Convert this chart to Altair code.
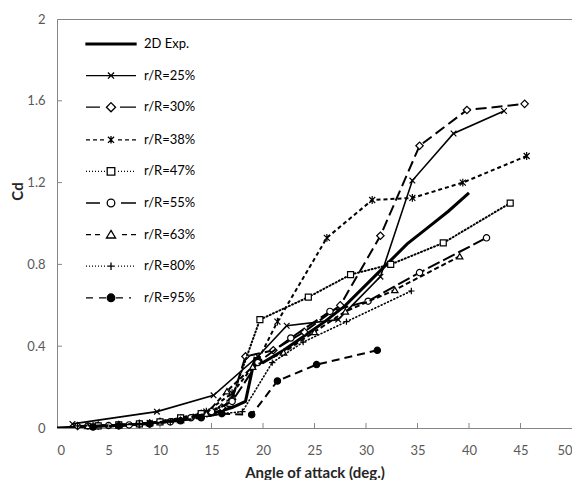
import altair as alt
import pandas as pd

# ---------------- data ----------------
series_names = ["2D Exp.", "r/R=25%", "r/R=30%", "r/R=38%", "r/R=47%",
                "r/R=55%", "r/R=63%", "r/R=80%", "r/R=95%"]

exp2d_x = [0, 4, 8, 12, 15, 17, 18.3, 19.2, 20, 22, 24, 26, 28, 30, 32, 34, 36, 38, 40]
exp2d_y = [0, 0.008, 0.018, 0.04, 0.07, 0.1, 0.13, 0.34, 0.32, 0.38, 0.45, 0.52, 0.6, 0.7, 0.8, 0.9, 0.98, 1.06, 1.15]

r25_x = [1.5, 9.7, 15.2, 19.5, 22.3, 27.3, 31.4, 34.5, 38.5, 43.4]
r25_y = [0.02, 0.08, 0.16, 0.35, 0.50, 0.53, 0.74, 1.21, 1.44, 1.55]

r30_x = [2, 4, 6, 8, 10, 12, 14, 16, 17, 18.3, 21, 24, 27.5, 31.4, 35.2, 39.8, 45.4]
r30_y = [0.01, 0.012, 0.015, 0.02, 0.03, 0.045, 0.07, 0.1, 0.14, 0.35, 0.38, 0.47, 0.6, 0.94, 1.38, 1.555, 1.585]

r38_x = [3.5, 6, 9, 12, 14.5, 17, 19.5, 21.4, 26.2, 30.6, 34.5, 39.4, 45.6]
r38_y = [0.01, 0.015, 0.025, 0.05, 0.08, 0.17, 0.33, 0.52, 0.93, 1.115, 1.125, 1.20, 1.33]

r47_x = [4, 6, 8, 10, 12, 14, 16.8, 19.7, 24.4, 28.5, 32.4, 37.5, 44]
r47_y = [0.01, 0.015, 0.02, 0.03, 0.05, 0.07, 0.12, 0.53, 0.64, 0.75, 0.80, 0.905, 1.10]

r55_x = [3, 5, 7, 9, 11, 13, 15, 17, 19.5, 22.7, 26.5, 30.2, 35.2, 41.7]
r55_y = [0.01, 0.012, 0.015, 0.02, 0.03, 0.05, 0.08, 0.13, 0.32, 0.44, 0.57, 0.62, 0.76, 0.93]

r63_x = [3, 6, 9, 12, 14.5, 16.5, 19, 22, 25, 28, 32.8, 39.1]
r63_y = [0.01, 0.015, 0.025, 0.04, 0.07, 0.18, 0.3, 0.37, 0.47, 0.57, 0.675, 0.84]

r80_x = [2, 5, 8, 11, 14, 16, 18, 20.9, 23.9, 28.1, 34.4]
r80_y = [0.01, 0.012, 0.02, 0.03, 0.05, 0.07, 0.08, 0.32, 0.42, 0.52, 0.67]

r95_x = [3.5, 6, 9, 12, 14, 16, 18.9, 21.4, 25.2, 31.1]
r95_y = [0.005, 0.01, 0.02, 0.035, 0.05, 0.07, 0.065, 0.23, 0.31, 0.38]

x_ticks = [0, 5, 10, 15, 20, 25, 30, 35, 40, 45, 50]
y_ticks = [0, 0.4, 0.8, 1.2, 1.6, 2.0]

all_x = [exp2d_x, r25_x, r30_x, r38_x, r47_x, r55_x, r63_x, r80_x, r95_x]
all_y = [exp2d_y, r25_y, r30_y, r38_y, r47_y, r55_y, r63_y, r80_y, r95_y]

# ---------------- styles ----------------
XP = "M-1,-1L1,1M-1,1L1,-1"
STAR = "M-1,-1L1,1M-1,1L1,-1M0,-1.3L0,1.3"
PLUS = "M-1,0L1,0M0,-1L0,1"

styles = {
    "2D Exp.": dict(width=3, dash=None, shape=None),
    "r/R=25%": dict(width=1.6, dash=None, shape=XP, size=32, fill="white"),
    "r/R=30%": dict(width=2, dash=[11, 5], shape="diamond", size=55, fill="white"),
    "r/R=38%": dict(width=2, dash=[4, 3], shape=STAR, size=36, fill="white"),
    "r/R=47%": dict(width=2, dash=[1, 2.5], shape="square", size=36, fill="white"),
    "r/R=55%": dict(width=2, dash=[13, 4], shape="circle", size=40, fill="white"),
    "r/R=63%": dict(width=2, dash=[5, 3], shape="triangle-up", size=40, fill="white"),
    "r/R=80%": dict(width=1.6, dash=[1, 2.5], shape=PLUS, size=40, fill="white"),
    "r/R=95%": dict(width=2, dash=[8, 5], shape="circle", size=40, fill="black"),
}

# legend symbol paths (line + marker), drawn in px then scaled to symbol units
HALF = 10.0          # sqrt(symbolSize)/2 in px
SYM_SIZE = (2 * HALF) ** 2


def u(v):
    return f"{v / HALF:.3f}"


def seg(parts):
    return "".join(f"M{u(a)},0L{u(b)},0" for a, b in parts)


R = 3.8
dots = [(x, x + 1) for x in range(-25, -6, 3)] + [(x, x + 1) for x in range(7, 25, 3)]
legend_paths = [
    f"M{u(-25)},{u(-0.9)}L{u(25)},{u(-0.9)}L{u(25)},{u(0.9)}L{u(-25)},{u(0.9)}Z",
    seg([(-25, 25)]) + f"M{u(-R*0.8)},{u(-R*0.8)}L{u(R*0.8)},{u(R*0.8)}M{u(-R*0.8)},{u(R*0.8)}L{u(R*0.8)},{u(-R*0.8)}",
    seg([(-25, -11), (9, 25)]) + f"M0,{u(-R*1.2)}L{u(R*1.2)},0L0,{u(R*1.2)}L{u(-R*1.2)},0Z",
    seg([(-25, -21), (-18, -14), (-11, -7), (7, 11), (14, 18), (21, 25)])
    + f"M{u(-R*0.8)},{u(-R*0.8)}L{u(R*0.8)},{u(R*0.8)}M{u(-R*0.8)},{u(R*0.8)}L{u(R*0.8)},{u(-R*0.8)}M0,{u(-R)}L0,{u(R)}",
    seg(dots) + f"M{u(-R)},{u(-R)}L{u(R)},{u(-R)}L{u(R)},{u(R)}L{u(-R)},{u(R)}Z",
    seg([(-25, -11), (10, 25)]) + f"M{u(R)},0A{u(R)},{u(R)} 0 1,1 {u(-R)},0A{u(R)},{u(R)} 0 1,1 {u(R)},0Z",
    seg([(-25, -20), (-16, -11), (11, 16), (20, 25)])
    + f"M0,{u(-R*1.1)}L{u(R*1.2)},{u(R*0.9)}L{u(-R*1.2)},{u(R*0.9)}Z",
    seg(dots) + f"M{u(-R)},0L{u(R)},0M0,{u(-R)}L0,{u(R)}",
    seg([(-25, -18), (-12, -5), (5, 12), (18, 20)])
    + f"M{u(R)},0A{u(R)},{u(R)} 0 1,1 {u(-R)},0A{u(R)},{u(R)} 0 1,1 {u(R)},0Z",
]
legend_fills = ["black", "white", "white", "white", "white", "white", "white", "white", "black"]
legend_strokes = ["black"] * 9

X_SCALE = alt.Scale(domain=[0, 50], nice=False)
Y_SCALE = alt.Scale(domain=[0, 2], nice=False)

W, H = 515, 409

X_AXIS = alt.Axis(title="Angle of attack (deg.)", values=x_ticks, ticks=False,
                  grid=False, labelPadding=16, titlePadding=8)
Y_AXIS = alt.Axis(title="Cd", values=y_ticks, ticks=False, grid=False,
                  labelPadding=12, titleAngle=270, titleX=-40, titleY=172, titleBaseline="middle",
                  labelExpr="datum.value == 0 ? '0' : datum.value == 2 ? '2' : format(datum.value, '.1f')")

layers = []
for i, name in enumerate(series_names):
    df = pd.DataFrame({"x": all_x[i], "y": all_y[i], "series": name})
    st = styles[name]
    line_kw = dict(color="black", strokeWidth=st["width"], clip=True)
    if st["dash"]:
        line_kw["strokeDash"] = st["dash"]
    if name in ("r/R=47%", "r/R=80%"):
        line_kw["strokeCap"] = "round"
    if i == 0:
        xenc = alt.X("x:Q", scale=X_SCALE, axis=X_AXIS)
        yenc = alt.Y("y:Q", scale=Y_SCALE, axis=Y_AXIS)
    else:
        xenc = alt.X("x:Q", scale=X_SCALE)
        yenc = alt.Y("y:Q", scale=Y_SCALE)
    layers.append(alt.Chart(df).mark_line(**line_kw).encode(x=xenc, y=yenc))
    if st["shape"]:
        layers.append(alt.Chart(df).mark_point(shape=st["shape"], size=st["size"], fill=st["fill"],
                                               stroke="black", strokeWidth=1.2, opacity=1,
                                               filled=False, fillOpacity=1)
                      .encode(x=alt.X("x:Q", scale=X_SCALE), y=alt.Y("y:Q", scale=Y_SCALE)))

# inward tick marks
xt = pd.DataFrame({"t": x_ticks[1:-1]})
yt = pd.DataFrame({"t": y_ticks[1:-1]})
layers.append(alt.Chart(xt).mark_rule(color="#868686", strokeWidth=1).encode(
    x=alt.X("t:Q", scale=X_SCALE), y=alt.value(H), y2=alt.value(H - 5)))
layers.append(alt.Chart(yt).mark_rule(color="#868686", strokeWidth=1).encode(
    y=alt.Y("t:Q", scale=Y_SCALE), x=alt.value(0), x2=alt.value(5)))

# legend layer (invisible points, visible legend)
LEG = dict(title=None, orient="none", legendX=43, legendY=14,
           symbolSize=SYM_SIZE, symbolOpacity=1, symbolStrokeColor="black",
           symbolStrokeWidth=1.3, labelFontSize=13, labelColor="black",
           labelFont="Lato", labelOffset=22, rowPadding=13.6, padding=0)
leg_df = pd.DataFrame({"series": series_names, "x": [0] * 9, "y": [0] * 9})
layers.append(alt.Chart(leg_df).mark_point(opacity=0, filled=True).encode(
    x=alt.X("x:Q", scale=X_SCALE), y=alt.Y("y:Q", scale=Y_SCALE),
    shape=alt.Shape("series:N", scale=alt.Scale(domain=series_names, range=legend_paths),
                    legend=alt.Legend(**LEG)),
    fill=alt.Fill("series:N", scale=alt.Scale(domain=series_names, range=legend_fills),
                  legend=alt.Legend(**LEG)),
    stroke=alt.Stroke("series:N", scale=alt.Scale(domain=series_names, range=legend_strokes),
                      legend=alt.Legend(**LEG)),
))

chart = alt.layer(*layers).resolve_scale(shape="independent", fill="independent",
                                         stroke="independent").properties(
    width=W, height=H,
    padding={"left": 49, "top": 11, "right": 0, "bottom": 52},
    autosize=alt.AutoSizeParams(type="none"),
).configure_view(stroke="#868686", strokeWidth=1).configure_axis(
    domainColor="#868686", labelColor="#595959", labelFontSize=13, labelFont="Lato",
    titleFont="Lato", titleFontSize=15, titleFontWeight="bold", titleColor="#262626",
)

chart.save("out.html", embed_options={"renderer": "svg", "actions": False})
